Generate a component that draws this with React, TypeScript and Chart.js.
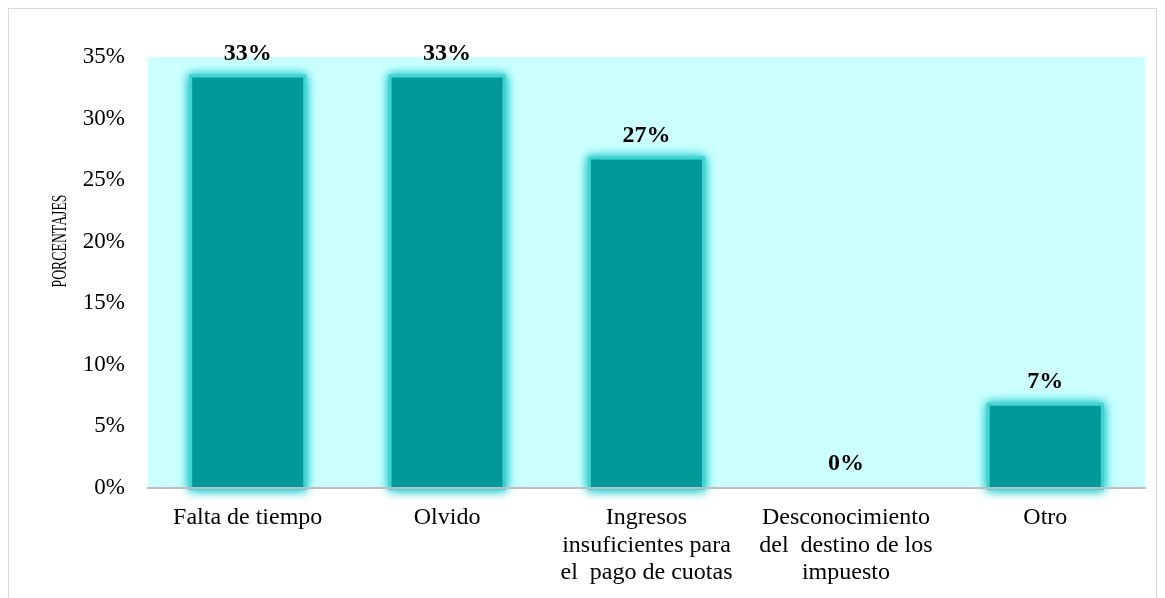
import React, { useEffect, useRef } from "react";
import { Chart, registerables } from "chart.js";

Chart.register(...registerables);

const categories: (string | string[])[] = [
  "Falta de tiempo",
  "Olvido",
  ["Ingresos", "insuficientes para", "el  pago de cuotas"],
  ["Desconocimiento", "del  destino de los", "impuesto"],
  "Otro",
];
const values: number[] = [33.33, 33.33, 26.67, 0, 6.67];
const yTicks: number[] = [0, 5, 10, 15, 20, 25, 30, 35];
const yTitle = "PORCENTAJES";

const FONT = "'Liberation Serif', 'Times New Roman', serif";

const bgPlugin = {
  id: "plotBg",
  beforeDraw(chart: any) {
    const { ctx, chartArea } = chart;
    ctx.save();
    ctx.fillStyle = "#CCFFFF";
    ctx.fillRect(chartArea.left, chartArea.top, chartArea.right - chartArea.left, chartArea.bottom - chartArea.top);
    ctx.restore();
  },
};

const titlePlugin = {
  id: "yTitleCustom",
  afterDraw(chart: any) {
    const ctx = chart.ctx;
    ctx.save();
    ctx.font = `20px ${FONT}`;
    ctx.fillStyle = "#000000";
    ctx.textAlign = "center";
    ctx.textBaseline = "middle";
    const w = ctx.measureText(yTitle).width;
    const sx = 93 / w;
    ctx.translate(52, 232);
    ctx.rotate(-Math.PI / 2);
    ctx.scale(sx, 1);
    ctx.fillText(yTitle, 0, 0);
    ctx.restore();
  },
};

const glowPlugin = {
  id: "glow",
  beforeDatasetsDraw(chart: any) {
    const ctx = chart.ctx;
    const meta = chart.getDatasetMeta(0);
    ctx.save();
    meta.data.forEach((bar: any, i: number) => {
      if (values[i] <= 0) return;
      const p = bar.getProps(["x", "y", "base", "width"], true);
      const left = p.x - p.width / 2;
      const top = Math.min(p.y, p.base);
      const h = Math.abs(p.base - p.y);
      const g = 3;
      ctx.shadowColor = "rgba(40, 205, 205, 1)";
      ctx.shadowBlur = 10;
      ctx.fillStyle = "#45D2D2";
      ctx.fillRect(left - g, top - g, p.width + 2 * g, h + g + 2);
      ctx.fillRect(left - g, top - g, p.width + 2 * g, h + g + 2);
    });
    ctx.restore();
  },
  afterDatasetsDraw(chart: any) {
    const ctx = chart.ctx;
    const meta = chart.getDatasetMeta(0);
    ctx.save();
    ctx.font = `bold 24px ${FONT}`;
    ctx.fillStyle = "#000000";
    ctx.textAlign = "center";
    ctx.textBaseline = "middle";
    meta.data.forEach((bar: any, i: number) => {
      ctx.fillText(`${Math.round(values[i])}%`, bar.x, bar.y - 24);
    });
    ctx.restore();
  },
};

export default function App() {
  const ref = useRef<HTMLCanvasElement | null>(null);
  useEffect(() => {
    if (!ref.current) return;
    const chart = new Chart(ref.current, {
      type: "bar",
      data: {
        labels: categories,
        datasets: [
          {
            data: values,
            backgroundColor: "#009999",
            borderWidth: 0,
            barPercentage: 0.557,
            categoryPercentage: 1,
          },
        ],
      },
      options: {
        animation: false,
        responsive: true,
        maintainAspectRatio: false,
        layout: { padding: { top: 48, right: 11, left: 0, bottom: 0 } },
        plugins: {
          legend: { display: false },
          tooltip: { enabled: false },
        },
        scales: {
          x: {
            grid: { display: false, drawTicks: false },
            border: { display: true, color: "#BFBFBF", width: 2, z: 1 },
            ticks: {
              color: "#000000",
              font: { family: FONT, size: 24, lineHeight: 1.15 },
              padding: 16,
              maxRotation: 0,
              autoSkip: false,
            },
            afterFit: (s: any) => {
              s.height = 110;
            },
          },
          y: {
            min: 0,
            max: 35,
            afterBuildTicks: (s: any) => {
              s.ticks = yTicks.map((v) => ({ value: v }));
            },
            grid: { display: false, drawTicks: false },
            border: { display: false },
            ticks: {
              color: "#000000",
              font: { family: FONT, size: 23 },
              padding: 23,
              callback: (v: any) => `${v}%`,
            },
            title: { display: false, text: yTitle },
            afterFit: (s: any) => {
              s.width = 139;
            },
          },
        },
      },
      plugins: [bgPlugin, glowPlugin, titlePlugin],
    });
    return () => chart.destroy();
  }, []);

  return (
    <div
      style={{
        border: "1px solid #D9D9D9",
        borderBottom: "none",
        height: 589,
        background: "#FFFFFF",
      }}
    >
      <div style={{ position: "relative", width: "100%", height: "100%" }}>
        <canvas ref={ref} />
      </div>
    </div>
  );
}
